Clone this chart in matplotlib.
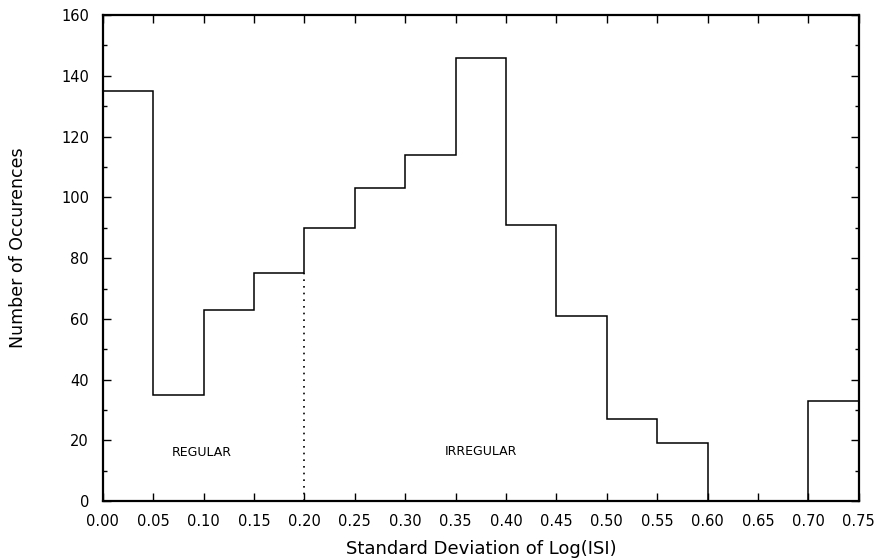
import matplotlib
matplotlib.use("Agg")
import matplotlib.pyplot as plt
import numpy as np

# bin edges of Standard Deviation of Log(ISI) and counts per bin
bin_edges = [0.00, 0.05, 0.10, 0.15, 0.20, 0.25, 0.30, 0.35, 0.40,
             0.45, 0.50, 0.55, 0.60, 0.65, 0.70, 0.75]
counts = [135, 35, 63, 75, 90, 103, 114, 146, 91, 61, 27, 19, 0, 0, 33]

x_ticks = [0.00, 0.05, 0.10, 0.15, 0.20, 0.25, 0.30, 0.35, 0.40,
           0.45, 0.50, 0.55, 0.60, 0.65, 0.70, 0.75]
y_ticks = [0, 20, 40, 60, 80, 100, 120, 140, 160]
boundary = 0.20
boundary_top = 75

plt.rcParams['font.family'] = ['DejaVu Sans']

fig = plt.figure(figsize=(8.79, 5.6), dpi=100)
ax = fig.add_axes([0.117, 0.105, 0.86, 0.868])

ax.stairs(counts, bin_edges, color='black', linewidth=1.1)
ax.vlines(boundary, 0, boundary_top, colors='black', linestyles=(0, (1, 3)), linewidth=1.2)

ax.text(0.098, 16, 'REGULAR', ha='center', va='center', fontsize=9)
ax.text(0.375, 16.5, 'IRREGULAR', ha='center', va='center', fontsize=9)

ax.set_xlim(0, 0.75)
ax.set_ylim(0, 160)
ax.set_xticks(x_ticks)
ax.set_xticklabels([f'{v:.2f}' for v in x_ticks])
ax.set_yticks(y_ticks)
ax.set_yticks(np.arange(10, 160, 20), minor=True)

ax.tick_params(axis='both', which='major', direction='in', length=6, width=1,
               top=True, right=True, labelsize=10.5)
ax.tick_params(axis='x', which='major', pad=9)
ax.tick_params(axis='y', which='major', pad=10)
ax.tick_params(axis='y', which='minor', direction='in', length=3, width=1,
               left=True, right=True)
for s in ax.spines.values():
    s.set_linewidth(1.6)

ax.set_xlabel('Standard Deviation of Log(ISI)', fontsize=13, labelpad=8)
fig.text(18 / 879, 1 - 248 / 560, 'Number of Occurences', rotation=90,
         ha='center', va='center', fontsize=12.5)

fig.savefig('out.png', dpi=100)
